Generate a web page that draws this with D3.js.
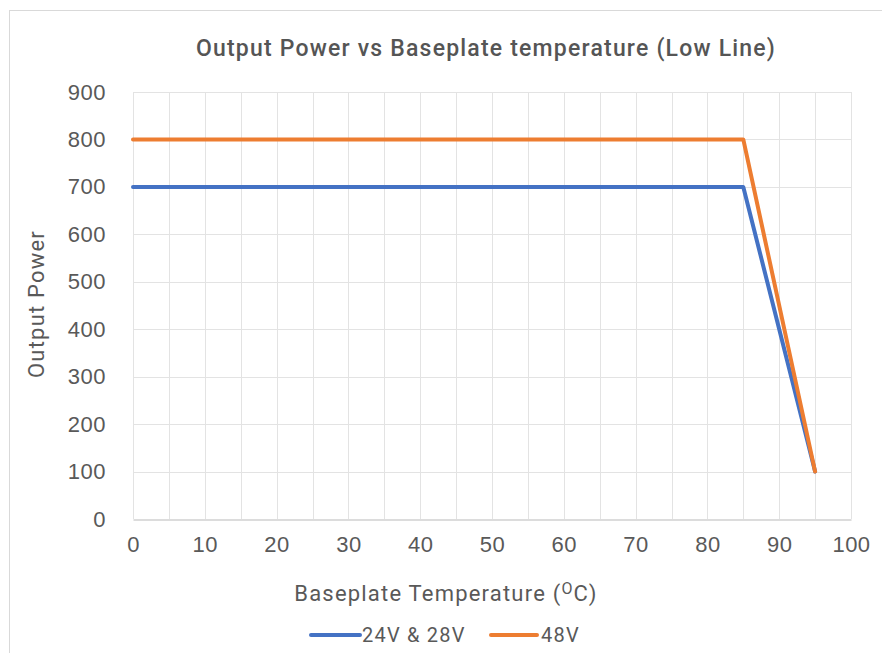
<!DOCTYPE html>
<html>
<head>
<meta charset="utf-8">
<script src="https://cdn.jsdelivr.net/npm/d3@7"></script>
<style>
  html, body { margin: 0; padding: 0; background: #fff; }
  svg { display: block; font-family: Roboto, "Liberation Sans", sans-serif; }
</style>
</head>
<body>
<svg id="chart" width="882" height="653"></svg>
<script>
// Derating curves: output power vs baseplate temperature
const temps24 = [0, 85, 95];
const power24 = [700, 700, 100];
const temps48 = [0, 85, 95];
const power48 = [800, 800, 100];
const seriesNames = ["24V & 28V", "48V"];
const seriesColors = ["#4472C4", "#ED7D31"];
const xTicks = [0, 10, 20, 30, 40, 50, 60, 70, 80, 90, 100];
const xGrid = d3.range(0, 101, 5);
const yTicks = [0, 100, 200, 300, 400, 500, 600, 700, 800, 900];

const svg = d3.select("#chart");
const plot = { left: 133, right: 851, top: 92, bottom: 519 };

const x = d3.scaleLinear().domain([0, 100]).range([plot.left, plot.right]);
const y = d3.scaleLinear().domain([0, 900]).range([plot.bottom, plot.top]);

// outer chart frame
svg.append("rect")
  .attr("x", 9.5).attr("y", 10.5)
  .attr("width", 882).attr("height", 660)
  .attr("fill", "none").attr("stroke", "#d9d9d9").attr("stroke-width", 1);

// gridlines
const grid = svg.append("g");
grid.selectAll("line.v").data(xGrid).join("line")
  .attr("x1", d => Math.round(x(d)) + 0.5).attr("x2", d => Math.round(x(d)) + 0.5)
  .attr("y1", plot.top).attr("y2", plot.bottom)
  .attr("stroke", "#e3e3e3").attr("stroke-width", 1);
grid.selectAll("line.h").data(yTicks.filter(d => d > 0)).join("line")
  .attr("x1", plot.left).attr("x2", plot.right)
  .attr("y1", d => Math.round(y(d)) + 0.5).attr("y2", d => Math.round(y(d)) + 0.5)
  .attr("stroke", "#e3e3e3").attr("stroke-width", 1);

// x axis
const xAxis = svg.append("g")
  .attr("transform", `translate(0,${Math.round(y(0)) + 0.5})`)
  .call(d3.axisBottom(x).tickValues(xTicks).tickSize(0).tickPadding(17));
xAxis.select(".domain").attr("stroke", "#d0d0d0").attr("stroke-width", 1.5);
xAxis.selectAll("text").attr("fill", "#595959").style("font-size", "22px")
  .style("letter-spacing", "0.5px");

// y axis
const yAxis = svg.append("g")
  .attr("transform", `translate(${plot.left},0)`)
  .call(d3.axisLeft(y).tickValues(yTicks).tickSize(0).tickPadding(27));
yAxis.select(".domain").remove();
yAxis.selectAll("text").attr("fill", "#595959").style("font-size", "22px")
  .style("letter-spacing", "0.5px");

// series lines
const line = d3.line().x(d => x(d[0])).y(d => y(d[1]));
const series = [
  d3.zip(temps24, power24),
  d3.zip(temps48, power48)
];
svg.append("g").selectAll("path").data(series).join("path")
  .attr("d", line)
  .attr("fill", "none")
  .attr("stroke", (d, i) => seriesColors[i])
  .attr("stroke-width", 4)
  .attr("stroke-linejoin", "round")
  .attr("stroke-linecap", "round");

// title
svg.append("text")
  .attr("x", 486).attr("y", 56)
  .attr("text-anchor", "middle")
  .attr("fill", "#555555")
  .style("font-size", "23px")
  .style("font-weight", 500)
  .style("letter-spacing", "1.2px")
  .text("Output Power vs Baseplate temperature (Low Line)");

// axis titles
svg.append("text")
  .attr("transform", "translate(44,304) rotate(-90)")
  .attr("text-anchor", "middle")
  .attr("fill", "#595959")
  .style("font-size", "22px")
  .style("letter-spacing", "1.2px")
  .text("Output Power");

const xt = svg.append("text")
  .attr("x", 446).attr("y", 601)
  .attr("text-anchor", "middle")
  .attr("fill", "#595959")
  .style("font-size", "22px")
  .style("letter-spacing", "1.2px");
xt.append("tspan").text("Baseplate Temperature (");
xt.append("tspan").attr("dy", -7).style("font-size", "16px").text("O");
xt.append("tspan").attr("dy", 7).text("C)");

// legend
const legend = svg.append("g");
const legendItems = [
  { x1: 311, x2: 360, tx: 362 },
  { x1: 491, x2: 537, tx: 541 }
];
legendItems.forEach((it, i) => {
  legend.append("line")
    .attr("x1", it.x1).attr("x2", it.x2)
    .attr("y1", 635).attr("y2", 635)
    .attr("stroke", seriesColors[i]).attr("stroke-width", 4)
    .attr("stroke-linecap", "round");
  legend.append("text")
    .attr("x", it.tx).attr("y", 642)
    .attr("fill", "#595959")
    .style("font-size", "20px")
    .style("letter-spacing", "1.2px")
    .text(seriesNames[i]);
});
</script>
</body>
</html>
